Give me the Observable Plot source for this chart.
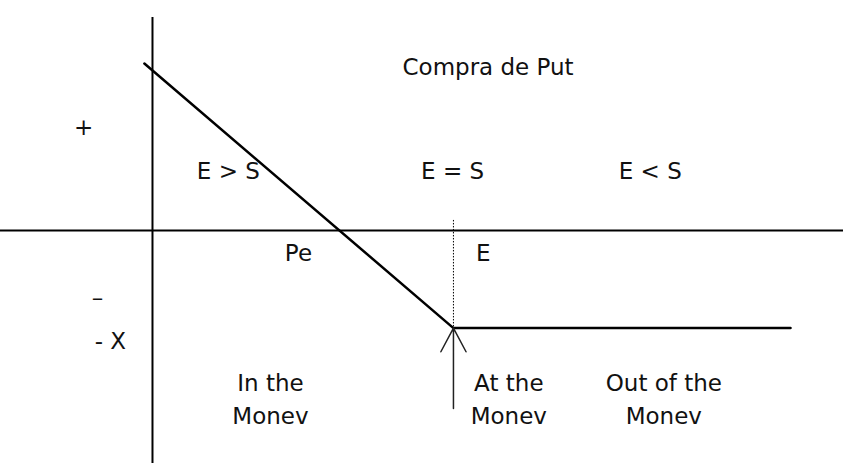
<!DOCTYPE html>
<html>
<head>
<meta charset="utf-8">
<script src="https://cdn.jsdelivr.net/npm/d3@7"></script>
<script src="https://cdn.jsdelivr.net/npm/@observablehq/plot@0.6"></script>
<style>
  html, body { margin: 0; padding: 0; background: #fff; }
</style>
</head>
<body>
<div id="chart"></div>
<script>
// Schematic payoff of buying a put (strike E = 100, premium X = 38)
const strikeE = 100;
const premiumX = 38;

// payoff line points: underlying price S and profit
const payoffS = [-2.7, 100, 212];
const payoffV = [65, -38, -38];

// axis extents (data units)
const axisTopV = 82.9;
const dottedTopV = 3.9;
const arrowBottomV = -69.3;

// labels
const labelText = ["Compra de Put", "+", "E > S", "E = S", "E < S", "Pe", "E", "–", "- X",
                   "In the\nMonev", "At the\nMonev", "Out of the\nMonev"];
const labelS = [111.5, -22.9, 25.2, 99.7, 165.4, 48.5, 109.9, -18.3, -14.0, 39.2, 118.4, 169.9];
const labelV = [64.4, 41.3, 24.1, 24.1, 24.1, -8.0, -8.0, -25.3, -42.0, -64.8, -64.8, -64.8];

const payoff = payoffS.map((s, i) => ({s, v: payoffV[i]}));
const labels = labelText.map((t, i) => ({t, s: labelS[i], v: labelV[i]}));

const chart = Plot.plot({
  width: 843,
  height: 463,
  margin: 0,
  x: {domain: [-50.5, 229.6], axis: null},
  y: {domain: [-90.7, 89.5], axis: null},
  style: {fontFamily: "'DejaVu Sans', Verdana, sans-serif", background: "#fff", color: "#111"},
  marks: [
    Plot.ruleY([0], {stroke: "#000", strokeWidth: 2}),
    Plot.ruleX([0], {y1: axisTopV, y2: -90.7, stroke: "#000", strokeWidth: 2}),
    Plot.ruleX([strikeE], {y1: dottedTopV, y2: -premiumX, stroke: "#000", strokeWidth: 1, strokeDasharray: "1.5,1.5"}),
    Plot.line(payoff, {x: "s", y: "v", stroke: "#000", strokeWidth: 2.5}),
    Plot.arrow([{x: strikeE, y1: arrowBottomV, y2: -premiumX}], {
      x1: "x", x2: "x", y1: "y1", y2: "y2",
      stroke: "#222", strokeWidth: 1.5, headLength: 27, headAngle: 56
    }),
    Plot.text(labels, {x: "s", y: "v", text: "t", fontSize: 23, lineHeight: 1.42, fill: "#111"})
  ]
});
document.getElementById("chart").append(chart);
</script>
</body>
</html>
